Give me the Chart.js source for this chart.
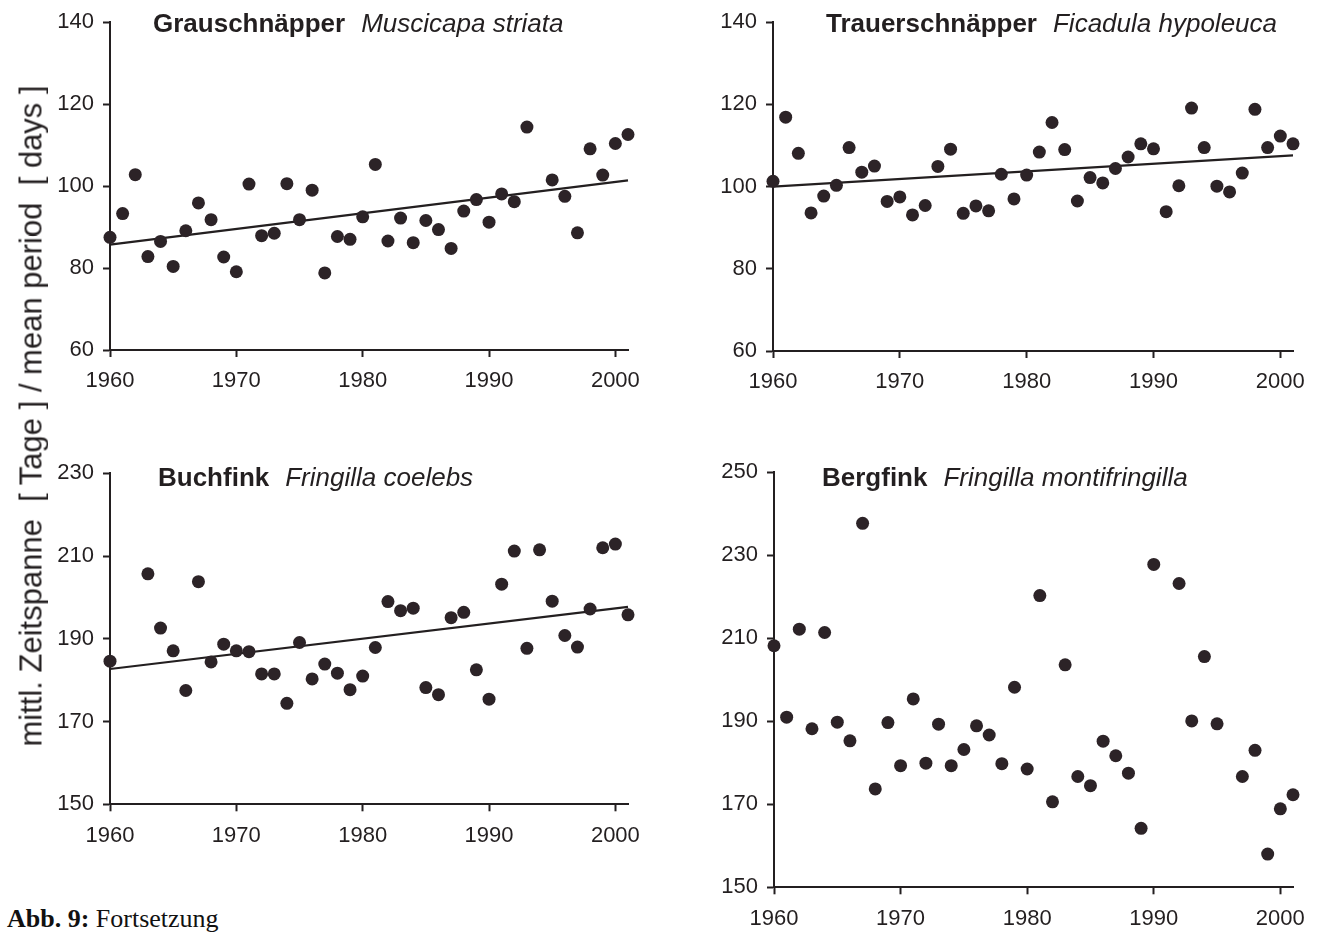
<!DOCTYPE html>
<html>
<head>
<meta charset="utf-8">
<script src="https://cdn.jsdelivr.net/npm/chart.js@4.4.1/dist/chart.umd.min.js"></script>
<style>
  body { margin: 0; width: 1317px; height: 932px; overflow: hidden; background: #fff; position: relative; }
  canvas { position: absolute; }
  .ttl { position: absolute; font-family: "Liberation Sans", Arial, sans-serif; font-size: 26px; line-height: 26px; color: #231f20; white-space: nowrap; }
  .ttl i { margin-left: 16px; }
  .ylab { position: absolute; left: 31px; top: 416px; transform: translate(-50%, -50%) rotate(-90deg);
    font-family: "Liberation Sans", Arial, sans-serif; font-size: 31px; line-height: 31px; color: #231f20; white-space: pre; }
  .cap { position: absolute; left: 7px; top: 906px; font-family: "Liberation Serif", "Times New Roman", serif; font-size: 26px; line-height: 26px; color: #111; white-space: nowrap; }
</style>
</head>
<body>
<canvas id="grau" width="620" height="420" style="left:40px; top:0px"></canvas>
<canvas id="trauer" width="614" height="420" style="left:703px; top:0px"></canvas>
<canvas id="buch" width="620" height="420" style="left:40px; top:450px"></canvas>
<canvas id="berg" width="613" height="482" style="left:704px; top:450px"></canvas>

<div class="ttl" style="left:153px; top:10px"><b>Grauschnäpper</b><i>Muscicapa striata</i></div>
<div class="ttl" style="left:826px; top:10px"><b>Trauerschnäpper</b><i>Ficadula hypoleuca</i></div>
<div class="ttl" style="left:158px; top:464px"><b>Buchfink</b><i>Fringilla coelebs</i></div>
<div class="ttl" style="left:822px; top:464px"><b>Bergfink</b><i>Fringilla montifringilla</i></div>
<div class="ylab">mittl. Zeitspanne  [ Tage ] / mean period  [ days ]</div>
<div class="cap"><b>Abb. 9:</b> Fortsetzung</div>

<script>
const years = [1960, 1961, 1962, 1963, 1964, 1965, 1966, 1967, 1968, 1969,
  1970, 1971, 1972, 1973, 1974, 1975, 1976, 1977, 1978, 1979,
  1980, 1981, 1982, 1983, 1984, 1985, 1986, 1987, 1988, 1989,
  1990, 1991, 1992, 1993, 1994, 1995, 1996, 1997, 1998, 1999,
  2000, 2001];
const yearTicks = [1960, 1970, 1980, 1990, 2000];

// Grauschnäpper (no value for 1994)
const grau = [87.5, 93.3, 102.8, 82.8, 86.5, 80.4, 89.1, 95.9, 91.8, 82.7,
  79.1, 100.5, 87.9, 88.5, 100.6, 91.8, 99.0, 78.8, 87.7, 87.0,
  92.5, 105.3, 86.6, 92.2, 86.2, 91.6, 89.4, 84.8, 93.9, 96.7,
  91.2, 98.1, 96.2, 114.4, null, 101.5, 97.5, 88.6, 109.1, 102.7,
  110.4, 112.6];
const grauTrend = [85.7, 101.4];

// Trauerschnäpper
const trauer = [101.3, 116.9, 108.1, 93.6, 97.7, 100.3, 109.5, 103.5, 105.0, 96.4,
  97.5, 93.1, 95.4, 104.9, 109.1, 93.5, 95.3, 94.1, 103.0, 97.0,
  102.8, 108.4, 115.6, 109.0, 96.5, 102.2, 100.9, 104.4, 107.2, 110.4,
  109.2, 93.9, 100.2, 119.1, 109.5, 100.1, 98.7, 103.3, 118.8, 109.5,
  112.3, 110.4];
const trauerTrend = [100.0, 107.6];

// Buchfink (no values for 1961, 1962)
const buch = [184.6, null, null, 205.7, 192.6, 187.1, 177.5, 203.8, 184.4, 188.7,
  187.1, 186.9, 181.5, 181.5, 174.4, 189.1, 180.3, 183.9, 181.7, 177.7,
  181.0, 187.9, 199.0, 196.8, 197.4, 178.2, 176.5, 195.1, 196.4, 182.5,
  175.4, 203.2, 211.2, 187.7, 211.5, 199.1, 190.8, 188.0, 197.2, 212.0,
  212.9, 195.8];
const buchTrend = [182.7, 197.7];

// Bergfink (no values for 1991, 1996, no trend)
const berg = [208.2, 191.0, 212.2, 188.2, 211.4, 189.8, 185.3, 237.7, 173.7, 189.7,
  179.3, 195.4, 179.9, 189.3, 179.3, 183.2, 188.9, 186.7, 179.8, 198.2,
  178.5, 220.3, 170.6, 203.6, 176.7, 174.5, 185.2, 181.7, 177.5, 164.2,
  227.8, null, 223.2, 190.1, 205.6, 189.4, null, 176.7, 183.0, 158.0,
  168.9, 172.3];

const trendYears = [1960, 2001];
const ticksFlycatcher = [60, 80, 100, 120, 140];
const ticksBuch = [150, 170, 190, 210, 230];
const ticksBerg = [150, 170, 190, 210, 230, 250];

const ink = "#231f20";
const dotColor = "#2c2327";

Chart.defaults.font.family = "'Liberation Sans', Arial, sans-serif";
Chart.defaults.color = ink;

function plainLabel(value) {
  return String(value);
}

function makePanel(id, values, trend, yTicks, pad, xHeight) {
  const points = [];
  years.forEach(function (yr, i) {
    if (values[i] !== null) points.push({ x: yr, y: values[i] });
  });
  const datasets = [
    {
      type: "scatter",
      data: points,
      backgroundColor: dotColor,
      borderWidth: 0,
      pointRadius: 6.5,
      clip: false,
    },
  ];
  if (trend) {
    datasets.push({
      type: "line",
      data: trendYears.map(function (yr, i) { return { x: yr, y: trend[i] }; }),
      borderColor: ink,
      borderWidth: 2.2,
      pointRadius: 0,
      fill: false,
      clip: false,
    });
  }
  const axisGrid = {
    display: true,
    drawOnChartArea: false,
    drawTicks: true,
    tickLength: 7,
    tickWidth: 2,
    tickColor: ink,
  };
  return new Chart(document.getElementById(id).getContext("2d"), {
    type: "scatter",
    data: { datasets: datasets },
    options: {
      responsive: false,
      animation: false,
      layout: { padding: pad },
      scales: {
        x: {
          type: "linear",
          min: 1960,
          max: 2001,
          grid: axisGrid,
          border: { display: true, color: ink, width: 2 },
          ticks: { font: { size: 22 }, color: ink, padding: 11, callback: plainLabel },
          afterBuildTicks: function (scale) {
            scale.ticks = yearTicks.map(function (v) { return { value: v }; });
          },
          afterFit: function (scale) { scale.height = xHeight; },
        },
        y: {
          min: yTicks[0],
          max: yTicks[yTicks.length - 1],
          grid: axisGrid,
          border: { display: true, color: ink, width: 2 },
          ticks: { font: { size: 22 }, color: ink, padding: 9, callback: plainLabel },
          afterBuildTicks: function (scale) {
            scale.ticks = yTicks.map(function (v) { return { value: v }; });
          },
          afterFit: function (scale) { scale.width = 70; },
        },
      },
      plugins: {
        legend: { display: false },
        tooltip: { enabled: false },
      },
    },
  });
}

makePanel("grau", grau, grauTrend, ticksFlycatcher, { left: 0, top: 19, right: 32, bottom: 20 }, 50);
makePanel("trauer", trauer, trauerTrend, ticksFlycatcher, { left: 0, top: 19, right: 24, bottom: 19 }, 50);
makePanel("buch", buch, buchTrend, ticksBuch, { left: 0, top: 23.3, right: 32, bottom: 15.7 }, 50);
makePanel("berg", berg, null, ticksBerg, { left: 0, top: 22.3, right: 24, bottom: 4.7 }, 40);
</script>
</body>
</html>
